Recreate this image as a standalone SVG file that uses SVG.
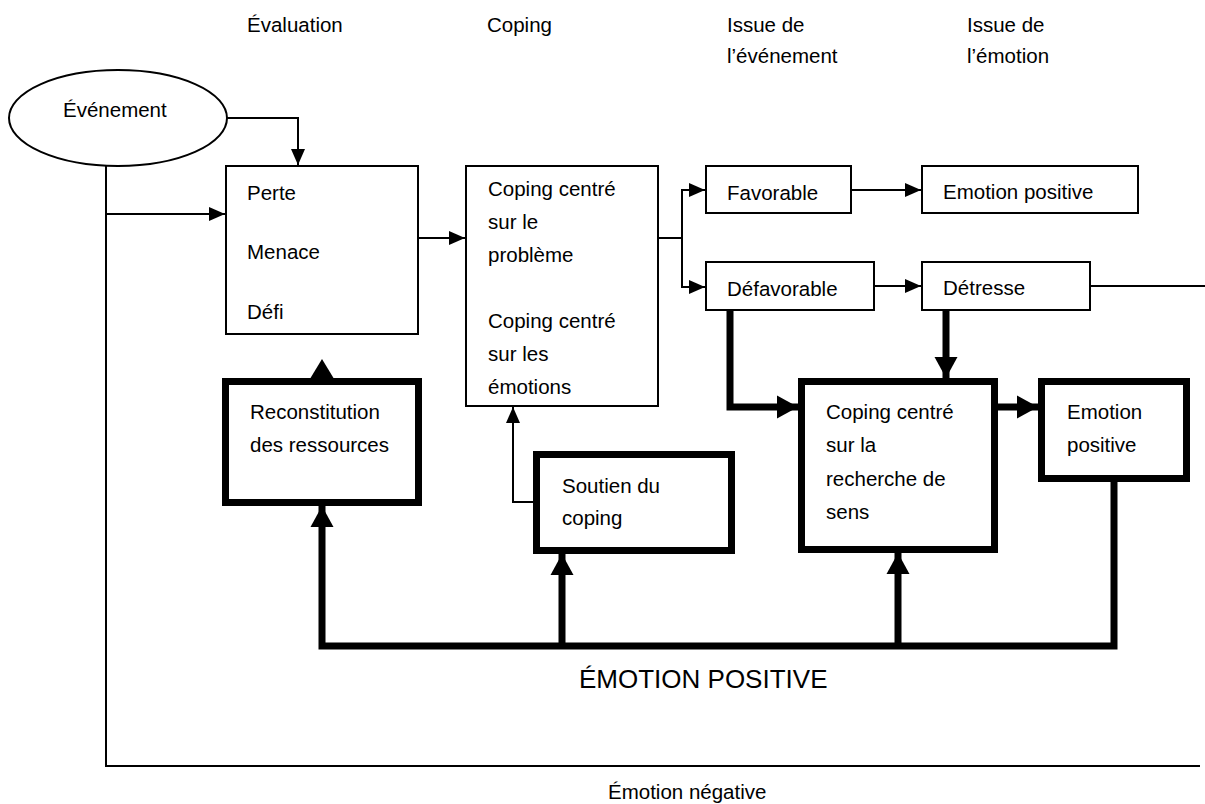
<svg xmlns="http://www.w3.org/2000/svg" width="1205" height="804" viewBox="0 0 1205 804">
<style>
text{font-family:"Liberation Sans",Arial,sans-serif;font-size:20.5px;fill:#000}
.thin{fill:#fff;stroke:#000;stroke-width:2}
.bold{fill:#fff;stroke:#000;stroke-width:7}
.c{fill:none;stroke:#000;stroke-width:2}
.cb{fill:none;stroke:#000;stroke-width:7}
.big{font-size:26px}
</style>
<defs>
<marker id="a" markerUnits="userSpaceOnUse" markerWidth="16" markerHeight="14" refX="16" refY="7" orient="auto" overflow="visible"><path d="M0,0 L16,7 L0,14 z" fill="#000"/></marker>
<marker id="ab" markerUnits="userSpaceOnUse" markerWidth="22" markerHeight="24" refX="21" refY="11.5" orient="auto" overflow="visible"><path d="M0,0 L21,11.5 L0,23 z" fill="#000"/></marker>
</defs>
<rect width="1205" height="804" fill="#fff"/>
<g id="headers">
<text x="247" y="32">Évaluation</text>
<text x="487" y="32">Coping</text>
<text x="727" y="32">Issue de</text>
<text x="727" y="63">l’événement</text>
<text x="967" y="32">Issue de</text>
<text x="967" y="63">l’émotion</text>
</g>
<g id="connectors">
<path class="c" d="M227,118 H298 V165" marker-end="url(#a)"/>
<path class="c" d="M106,166 V766 H1200"/>
<path class="c" d="M106,214 H225" marker-end="url(#a)"/>
<path class="c" d="M418,238 H465" marker-end="url(#a)"/>
<path class="c" d="M658,238 H682"/>
<path class="c" d="M682,238 V190 H705" marker-end="url(#a)"/>
<path class="c" d="M682,238 V287 H705" marker-end="url(#a)"/>
<path class="c" d="M851,190 H921" marker-end="url(#a)"/>
<path class="c" d="M874,286 H921" marker-end="url(#a)"/>
<path class="c" d="M1090,286 H1205"/>
<path class="c" d="M533,502 H513 V407" marker-end="url(#a)"/>
<path class="cb" d="M730,310 V407 H798" marker-end="url(#ab)"/>
<path class="cb" d="M946,310 V378" marker-end="url(#ab)"/>
<path class="cb" d="M998,407 H1038" marker-end="url(#ab)"/>
<path class="cb" d="M1114,482 V646 H322 V506" marker-end="url(#ab)"/>
<path class="cb" d="M562,646 V554" marker-end="url(#ab)"/>
<path class="cb" d="M898,646 V553" marker-end="url(#ab)"/>
<polygon points="322,359 310.5,378 333.5,378" fill="#000"/>
</g>
<g id="evenement">
<ellipse class="thin" cx="118" cy="118" rx="109" ry="48"/>
<text x="63" y="117">Événement</text>
</g>
<g id="evaluation">
<rect class="thin" x="226" y="166" width="192" height="168"/>
<text x="247" y="200">Perte</text>
<text x="247" y="259">Menace</text>
<text x="247" y="319">Défi</text>
</g>
<g id="coping">
<rect class="thin" x="466" y="166" width="192" height="240"/>
<text x="488" y="196">Coping centré</text>
<text x="488" y="229">sur le</text>
<text x="488" y="262">problème</text>
<text x="488" y="328">Coping centré</text>
<text x="488" y="361">sur les</text>
<text x="488" y="394">émotions</text>
</g>
<g id="favorable">
<rect class="thin" x="706" y="166" width="145" height="47"/>
<text x="727" y="200">Favorable</text>
</g>
<g id="emotion-positive-1">
<rect class="thin" x="922" y="166" width="216" height="47"/>
<text x="943" y="199">Emotion positive</text>
</g>
<g id="defavorable">
<rect class="thin" x="706" y="262" width="168" height="48"/>
<text x="727" y="296">Défavorable</text>
</g>
<g id="detresse">
<rect class="thin" x="922" y="262" width="168" height="48"/>
<text x="943" y="295">Détresse</text>
</g>
<g id="reconstitution">
<rect class="bold" x="225.5" y="381.5" width="193" height="121"/>
<text x="250" y="419">Reconstitution</text>
<text x="250" y="452">des ressources</text>
</g>
<g id="soutien">
<rect class="bold" x="536.5" y="454.5" width="195" height="96"/>
<text x="562" y="493">Soutien du</text>
<text x="562" y="525">coping</text>
</g>
<g id="recherche-sens">
<rect class="bold" x="801.5" y="381.5" width="193" height="168"/>
<text x="826" y="419">Coping centré</text>
<text x="826" y="452">sur la</text>
<text x="826" y="486">recherche de</text>
<text x="826" y="519">sens</text>
</g>
<g id="emotion-positive-2">
<rect class="bold" x="1041.5" y="381.5" width="145" height="97"/>
<text x="1067" y="419">Emotion</text>
<text x="1067" y="452">positive</text>
</g>
<g id="labels">
<text class="big" x="579" y="688">ÉMOTION POSITIVE</text>
<text x="608" y="799">Émotion négative</text>
</g>
</svg>
